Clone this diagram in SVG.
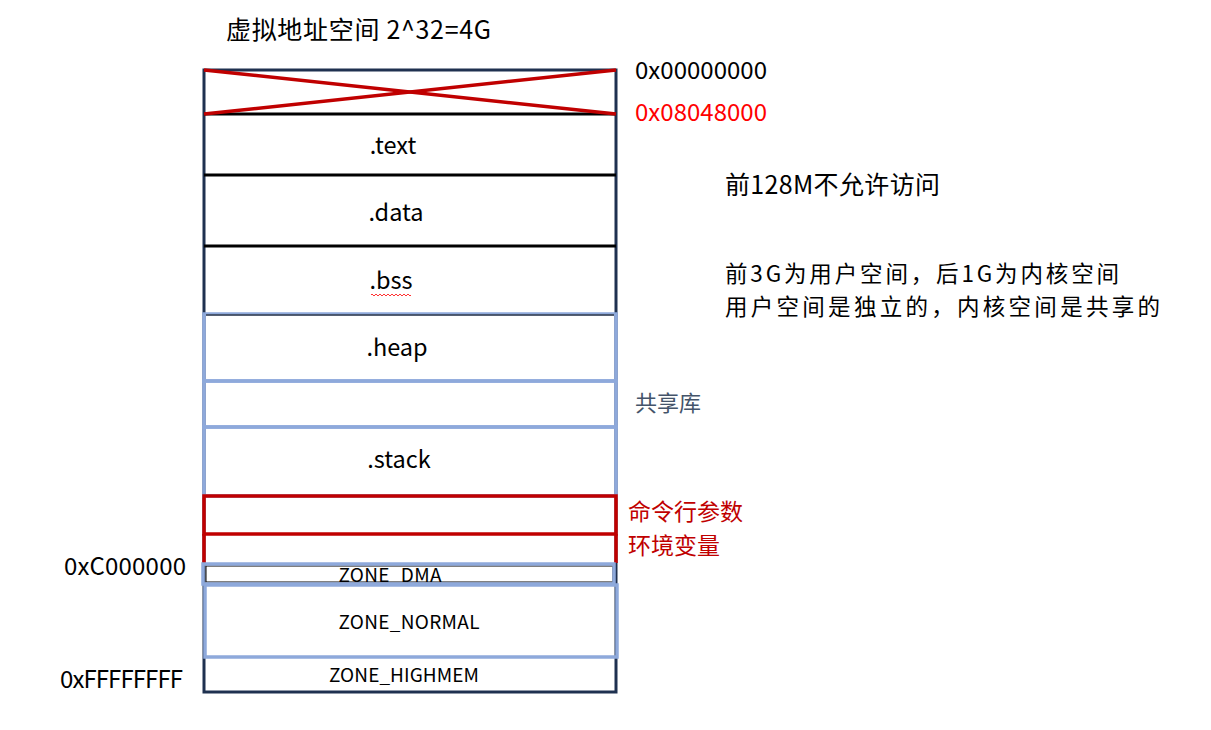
<svg xmlns="http://www.w3.org/2000/svg" width="1211" height="730" viewBox="0 0 1211 730">
<style>
text{font-family:"Noto Sans CJK SC","Noto Sans",sans-serif;fill:#000}
.cjk{font-size:25px}
.two{font-size:22.5px}
.hex{font-size:24px}
.sec{font-size:23.5px;text-anchor:middle}
.zone{font-size:19px;text-anchor:middle}
.red{fill:#FF0000}
.dred{fill:#C00000}
.navy{fill:#44546A}
.blue{fill:none;stroke:#8EA9DB;stroke-width:3.5}
.rbox{fill:none;stroke:#C00000;stroke-width:3.5}
.sep{stroke:#000;stroke-width:3}
</style>
<rect width="1211" height="730" fill="#fff"/>
<text class="cjk" x="226" y="39" textLength="265">虚拟地址空间 2^32=4G</text>
<g id="outer"><rect x="204" y="70" width="412" height="622" fill="none" stroke="#1F3150" stroke-width="3"/></g>
<g id="reserved">
<line class="sep" x1="204" y1="114" x2="616" y2="114"/>
<line x1="204" y1="70" x2="616" y2="114" stroke="#C00000" stroke-width="3.5"/>
<line x1="204" y1="114" x2="616" y2="70" stroke="#C00000" stroke-width="3.5"/>
</g>
<g id="text-seg"><line class="sep" x1="204" y1="175" x2="616" y2="175"/><text class="sec" x="393" y="154">.text</text></g>
<g id="data-seg"><line class="sep" x1="204" y1="246" x2="616" y2="246"/><text class="sec" x="396" y="221">.data</text></g>
<g id="bss-seg"><text class="sec" x="391" y="289">.bss</text><path d="M371 295 q1 -2 2 0 t2 0 t2 0 t2 0 t2 0 t2 0 t2 0 t2 0 t2 0 t2 0 t2 0 t2 0 t2 0 t2 0 t2 0 t2 0 t2 0 t2 0 t2 0 t2 0" fill="none" stroke="#FF0000" stroke-width="0.8"/></g>
<g id="heap"><rect class="blue" x="204" y="314" width="412" height="67"/><line x1="206" y1="315" x2="614" y2="315" stroke="#000" stroke-width="1"/><text class="sec" x="397" y="356">.heap</text></g>
<g id="shlib"><rect class="blue" x="204" y="381" width="412" height="46"/></g>
<g id="stack"><rect class="blue" x="204" y="427" width="412" height="69"/><text class="sec" x="399" y="468">.stack</text></g>
<g id="args"><rect class="rbox" x="204" y="496" width="412" height="38"/></g>
<g id="env"><line x1="204" y1="534" x2="204" y2="563" stroke="#C00000" stroke-width="3.5"/><line x1="616" y1="534" x2="616" y2="563" stroke="#C00000" stroke-width="3.5"/></g>
<g id="zone-dma"><rect x="206" y="566" width="407" height="16" fill="none" stroke="#000" stroke-width="1"/><rect class="blue" x="203" y="564" width="411" height="20"/><text class="zone" x="390" y="582" textLength="103">ZONE_DMA</text></g>
<g id="zone-normal"><rect class="blue" x="205" y="585" width="412" height="72"/><text class="zone" x="409" y="629" textLength="141">ZONE_NORMAL</text></g>
<g id="zone-highmem"><text class="zone" x="404" y="682" textLength="150">ZONE_HIGHMEM</text></g>
<g id="labels">
<text class="hex" x="635" y="79" textLength="132">0x00000000</text>
<text class="hex red" x="635" y="121" textLength="132">0x08048000</text>
<text class="cjk" x="725" y="194" textLength="215">前128M不允许访问</text>
<text class="two" x="725" y="282" textLength="394">前3G为用户空间，后1G为内核空间</text>
<text class="two" x="725" y="315" textLength="435">用户空间是独立的，内核空间是共享的</text>
<text x="635" y="411" style="font-size:22px" class="navy">共享库</text>
<text class="dred" x="628" y="520" style="font-size:23px">命令行参数</text>
<text class="dred" x="628" y="554" style="font-size:23px">环境变量</text>
<text class="hex" x="64" y="575" textLength="122">0xC000000</text>
<text class="hex" x="60" y="688" textLength="123">0xFFFFFFFF</text>
</g>
<g id="connectors"></g>
</svg>
